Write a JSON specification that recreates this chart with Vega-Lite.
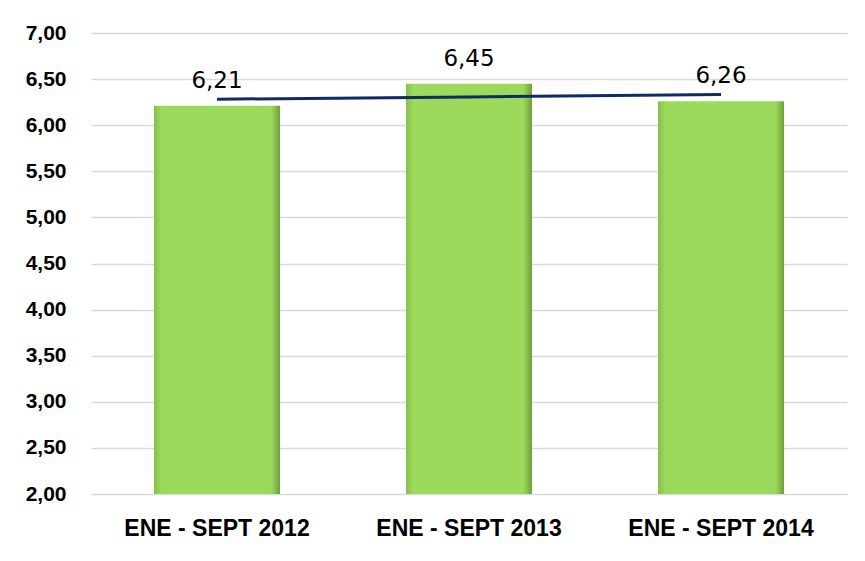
{
  "$schema": "https://vega.github.io/schema/vega-lite/v6.json",
  "width": 756,
  "height": 461,
  "autosize": {"type": "none"},
  "padding": {"left": 91, "top": 33, "right": 18, "bottom": 67},
  "background": "white",
  "config": {
    "view": {"stroke": null},
    "locale": {"number": {"decimal": ",", "thousands": ".", "grouping": [3], "currency": ["", " €"]}}
  },
  "data": {
    "values": [
      {"period": "ENE - SEPT 2012", "value": 6.21, "trend": 6.2817},
      {"period": "ENE - SEPT 2013", "value": 6.45, "trend": 6.3067},
      {"period": "ENE - SEPT 2014", "value": 6.26, "trend": 6.3317}
    ]
  },
  "encoding": {
    "x": {
      "field": "period",
      "type": "nominal",
      "sort": null,
      "scale": {"paddingInner": 0.5, "paddingOuter": 0.25},
      "axis": {
        "title": null,
        "labelAngle": 0,
        "domain": false,
        "ticks": false,
        "labelFont": "Liberation Sans",
        "labelFontWeight": "bold",
        "labelFontSize": 23,
        "labelLimit": 400,
        "labelColor": "#000000",
        "labelPadding": 23
      }
    }
  },
  "layer": [
    {
      "mark": {
        "type": "bar",
        "color": {
          "gradient": "linear",
          "x1": 0, "y1": 0, "x2": 1, "y2": 0,
          "stops": [
            {"offset": 0, "color": "#86c04c"},
            {"offset": 0.06, "color": "#9cda5b"},
            {"offset": 0.93, "color": "#9cda5b"},
            {"offset": 1, "color": "#6f9f3c"}
          ]
        }
      },
      "encoding": {
        "y": {
          "field": "value",
          "type": "quantitative",
          "scale": {"domain": [2, 7], "zero": false, "nice": false},
          "axis": {
            "title": null,
            "values": [2, 2.5, 3, 3.5, 4, 4.5, 5, 5.5, 6, 6.5, 7],
            "format": ".2f",
            "domain": false,
            "ticks": false,
            "grid": true,
            "gridColor": "#d9d9d9",
            "gridWidth": 1.5,
            "labelFont": "Liberation Sans",
            "labelFontWeight": "bold",
            "labelFontSize": 21,
            "labelColor": "#000000",
            "labelPadding": 25
          }
        },
        "y2": {"datum": 2}
      }
    },
    {
      "mark": {"type": "line", "color": "#0f2a66", "strokeWidth": 3},
      "encoding": {
        "y": {"field": "trend", "type": "quantitative", "scale": {"domain": [2, 7], "zero": false, "nice": false}}
      }
    },
    {
      "mark": {"type": "text", "font": "DejaVu Sans", "fontSize": 23, "color": "#000000", "baseline": "alphabetic", "dy": -18},
      "encoding": {
        "y": {"field": "value", "type": "quantitative", "scale": {"domain": [2, 7], "zero": false, "nice": false}},
        "text": {"field": "value", "type": "quantitative", "format": ".2f"}
      }
    }
  ]
}
